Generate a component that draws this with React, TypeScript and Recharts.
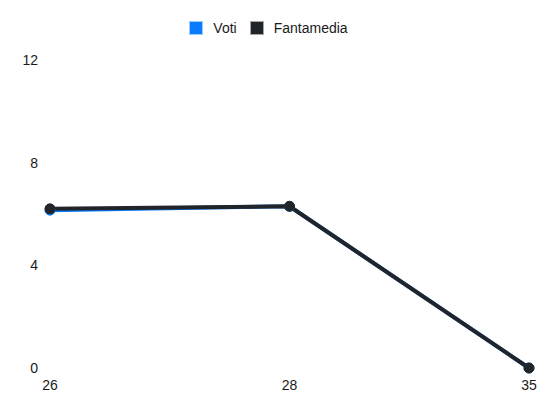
import React from "react";
import { LineChart, Line, XAxis, YAxis, Legend } from "recharts";

const categories = ["26", "28", "35"];
const votiValues = [6.15, 6.3, 0];
const fantamediaValues = [6.2, 6.3, 0];
const yTicks = [0, 4, 8, 12];

const seriesInfo = [
  { key: "voti", name: "Voti", color: "#0a7cff" },
  { key: "fantamedia", name: "Fantamedia", color: "#212529" },
];

const data = categories.map((c, i) => ({
  giornata: c,
  voti: votiValues[i],
  fantamedia: fantamediaValues[i],
}));

const FONT = '"Liberation Sans", Arial, Helvetica, sans-serif';

const LegendContent = () => (
  <div
    style={{
      display: "flex",
      justifyContent: "center",
      alignItems: "center",
      paddingTop: 7,
      fontFamily: FONT,
      fontSize: 14,
      color: "#1a1a1a",
    }}
  >
    {seriesInfo.map((s, i) => (
      <div
        key={s.key}
        style={{ display: "flex", alignItems: "center", marginRight: i === 0 ? 13 : 0 }}
      >
        <span
          style={{
            display: "inline-block",
            width: 14,
            height: 14,
            background: s.color,
            boxSizing: "border-box",
            border: "1px solid rgba(255,255,255,0.6)",
            marginRight: 10,
          }}
        />
        <span style={{ lineHeight: "14px" }}>{s.name}</span>
      </div>
    ))}
  </div>
);

export default function App() {
  return (
    <div style={{ position: "absolute", left: 0, top: 0, width: 550, height: 412, background: "#fff" }}>
      <LineChart width={550} height={412} data={data} margin={{ top: 14, right: 21, bottom: 13, left: 0 }}>
        <Legend
          verticalAlign="top"
          height={46}
          content={<LegendContent />}
          wrapperStyle={{ left: 0, width: 537, top: 14 }}
        />
        <XAxis
          dataKey="giornata"
          axisLine={false}
          tickLine={false}
          tickSize={0}
          tickMargin={12}
          height={31}
          interval={0}
          tick={{ fontSize: 14, fontFamily: FONT, fill: "#1a1a1a" }}
        />
        <YAxis
          domain={[0, 12]}
          ticks={yTicks}
          axisLine={false}
          tickLine={false}
          tickSize={0}
          tickMargin={12}
          width={50}
          tick={{ fontSize: 14, fontFamily: FONT, fill: "#1a1a1a" }}
        />
        {seriesInfo.map((s) => (
          <Line
            key={s.key}
            dataKey={s.key}
            name={s.name}
            stroke={s.color}
            strokeWidth={4}
            dot={{ r: 5, fill: s.color, stroke: s.color, strokeWidth: 1 }}
            activeDot={false}
            isAnimationActive={false}
          />
        ))}
      </LineChart>
    </div>
  );
}
